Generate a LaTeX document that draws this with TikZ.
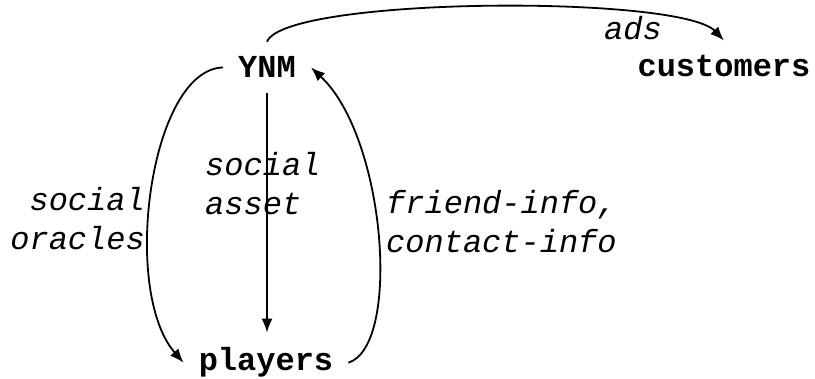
\documentclass[tikz,border=0pt]{standalone}
\usepackage{fontspec}
\setmonofont{Liberation Mono}
\usetikzlibrary{arrows.meta}
\begin{document}
\begin{tikzpicture}[x=1pt,y=-1pt,
  base/.style={font=\ttfamily\fontsize{32}{39}\selectfont},
  entity/.style={base,font=\ttfamily\bfseries\fontsize{32}{39}\selectfont,inner sep=15pt},
  lbl/.style={base,font=\ttfamily\itshape\fontsize{32}{39}\selectfont,inner sep=0pt},
  conn/.style={line width=1.8pt,-{Latex[length=14pt,width=11pt]}}]
\useasboundingbox (0,0) rectangle (815,379);
\node[entity,anchor=base] (ynm) at (267,78) {YNM};
\node[entity,anchor=base] (cust) at (724,77) {customers};
\node[entity,anchor=base] (play) at (266,371) {players};
\node[lbl,anchor=base] (ads) at (633,40) {ads};
\node[lbl,anchor=base west,align=left] (asset) at (205,215) {social\\asset};
\node[lbl,anchor=base east,align=right] (oracles) at (145,250) {social\\oracles};
\node[lbl,anchor=base west,align=left] (info) at (386,253) {friend-info,\\contact-info};
\draw[conn] (ynm.north) .. controls +(18,-45) and +(-44,-46) .. (cust.north);
\draw[conn] (ynm.south) -- (ynm.south |- play.north);
\draw[conn] (ynm.west) .. controls +(-73,2) and +(-63,-72) .. (play.west);
\draw[conn] (play.east) .. controls +(53,-17) and +(75,70) .. (ynm.east);
\end{tikzpicture}
\end{document}
